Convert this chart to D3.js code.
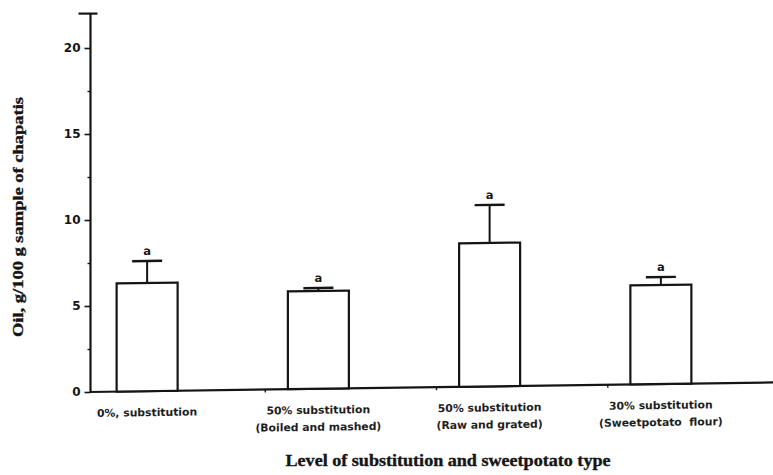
<!DOCTYPE html>
<html><head><meta charset="utf-8">
<script src="https://cdn.jsdelivr.net/npm/d3@7"></script>
<style>body{margin:0;background:#fff}svg{display:block}</style>
</head><body><svg id="c" width="773" height="475"></svg>
<script>
const categories = ["0%, substitution","50% substitution (Boiled and mashed)","50% substitution (Raw and grated)","30% substitution (Sweetpotato flour)"];
const labelLine1 = ["0%, substitution","50% substitution","50% substitution","30% substitution"];
const labelLine2 = ["","(Boiled and mashed)","(Raw and grated)","(Sweetpotato  flour)"];
const oilMean = [6.29, 5.69, 8.34, 5.76];
const oilErr = [1.28, 0.17, 2.21, 0.46];
const letters = ["a","a","a","a"];
const yTicks = [0,5,10,15,20];
const yMinorTicks = [2.5,7.5,12.5,17.5];
const yMax = 22;
const yTitle = "Oil, g/100 g sample of chapatis";
const xTitle = "Level of substitution and sweetpotato type";

const ink = "#151515";
const svg = d3.select("#c");
const y = d3.scaleLinear().domain([0, yMax]).range([392, 13.6]);
const x = d3.scalePoint().domain(categories).range([61.5, 746.5]).padding(0.5);
const step = x.step();
const barW = 61, capW = 30;

// slight skew as in the scanned original
const g = svg.append("g").attr("transform", "translate(90,392) skewY(-0.8) translate(-90,-392)");

// Y axis
const yAxisG = svg.append("g").attr("transform", "translate(90.5,0)");
yAxisG.append("line").attr("x1",0).attr("x2",0).attr("y1",y(0)).attr("y2",y(yMax))
  .attr("stroke",ink).attr("stroke-width",2.2);
yAxisG.append("line").attr("x1",-12).attr("x2",7).attr("y1",y(yMax)).attr("y2",y(yMax))
  .attr("stroke",ink).attr("stroke-width",2.2);
const majorAx = yAxisG.append("g").call(d3.axisLeft(y).tickValues(yTicks).tickSize(6).tickPadding(4).tickFormat(d3.format("d")));
majorAx.select(".domain").remove();
majorAx.selectAll(".tick line").attr("stroke",ink).attr("stroke-width",1.6);
majorAx.selectAll(".tick text").attr("font-family","DejaVu Sans").attr("font-weight","bold")
  .attr("font-size","12px").attr("fill",ink);
const minorAx = yAxisG.append("g").call(d3.axisLeft(y).tickValues(yMinorTicks).tickSize(3).tickFormat(""));
minorAx.select(".domain").remove();
minorAx.selectAll(".tick line").attr("stroke",ink).attr("stroke-width",1.4);

// X axis
g.append("line").attr("x1",90).attr("x2",773).attr("y1",y(0)).attr("y2",y(0))
  .attr("stroke",ink).attr("stroke-width",2.2);
g.selectAll(".xt").data(categories).join("line").attr("class","xt")
  .attr("x1",d=>x(d)+0.69*step).attr("x2",d=>x(d)+0.69*step)
  .attr("y1",y(0)).attr("y2",y(0)+3).attr("stroke",ink).attr("stroke-width",1.4);

// Bars
const data = categories.map((c,i)=>({c, v: oilMean[i], e: oilErr[i], l: letters[i], l1: labelLine1[i], l2: labelLine2[i]}));
g.selectAll(".eb").data(data).join("line").attr("class","eb")
  .attr("x1",d=>x(d.c)).attr("x2",d=>x(d.c)).attr("y1",d=>y(d.v)).attr("y2",d=>y(d.v+d.e))
  .attr("stroke",ink).attr("stroke-width",2);
g.selectAll(".cap").data(data).join("line").attr("class","cap")
  .attr("x1",d=>x(d.c)-capW/2).attr("x2",d=>x(d.c)+capW/2).attr("y1",d=>y(d.v+d.e)).attr("y2",d=>y(d.v+d.e))
  .attr("stroke",ink).attr("stroke-width",2.4);
g.selectAll(".bar").data(data).join("rect").attr("class","bar")
  .attr("x",d=>x(d.c)-barW/2).attr("width",barW)
  .attr("y",d=>y(d.v)).attr("height",d=>y(0)-y(d.v))
  .attr("fill","#fff").attr("stroke",ink).attr("stroke-width",2.2);
g.selectAll(".let").data(data).join("text").attr("class","let")
  .attr("x",d=>x(d.c)).attr("y",d=>y(d.v+d.e)-6).attr("text-anchor","middle")
  .attr("font-family","DejaVu Sans").attr("font-weight","bold").attr("font-size","11.5px").attr("fill",ink)
  .text(d=>d.l);

// Category labels
g.selectAll(".cl1").data(data).join("text").attr("class","cl1")
  .attr("x",d=>x(d.c)).attr("y",417).attr("text-anchor","middle")
  .attr("font-family","DejaVu Sans").attr("font-weight","bold").attr("font-size","10.8px").attr("fill","#1e1e1e")
  .text(d=>d.l1);
g.selectAll(".cl2").data(data).join("text").attr("class","cl2")
  .attr("x",d=>x(d.c)).attr("y",434).attr("text-anchor","middle")
  .attr("font-family","DejaVu Sans").attr("font-weight","bold").attr("font-size","10.8px").attr("fill","#1e1e1e")
  .style("white-space","pre").text(d=>d.l2);

// Titles
svg.append("text").attr("transform","translate(23,217) rotate(-90)").attr("text-anchor","middle")
  .attr("font-family","Liberation Serif").attr("font-weight","bold").attr("font-size","14px").attr("fill",ink)
  .attr("stroke",ink).attr("stroke-width",0.35)
  .attr("textLength",240).attr("lengthAdjust","spacingAndGlyphs").text(yTitle);
svg.append("text").attr("x",448).attr("y",466).attr("text-anchor","middle")
  .attr("font-family","Liberation Serif").attr("font-weight","bold").attr("font-size","16px").attr("fill",ink)
  .attr("stroke",ink).attr("stroke-width",0.35)
  .attr("textLength",325).attr("lengthAdjust","spacingAndGlyphs").text(xTitle);
</script></body></html>
